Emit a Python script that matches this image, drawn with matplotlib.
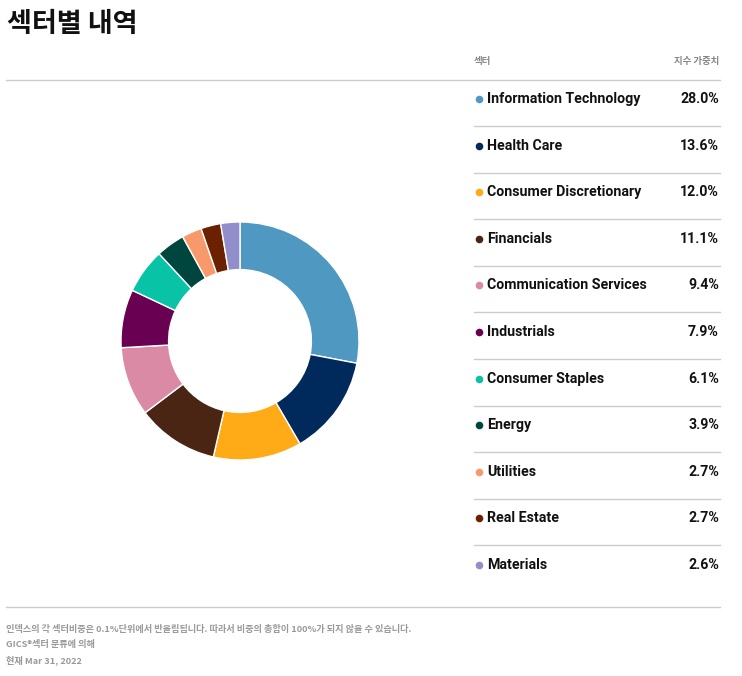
import matplotlib
matplotlib.use("Agg")
import matplotlib.pyplot as plt

plt.rcParams['font.family'] = ['Noto Sans CJK KR', 'DejaVu Sans']

# --- data ---
sectors = ["Information Technology", "Health Care", "Consumer Discretionary",
           "Financials", "Communication Services", "Industrials",
           "Consumer Staples", "Energy", "Utilities", "Real Estate", "Materials"]
weights = [28.0, 13.6, 12.0, 11.1, 9.4, 7.9, 6.1, 3.9, 2.7, 2.7, 2.6]
colors = ["#4e98c2", "#002a5c", "#ffab18", "#4a2513", "#db8aa5", "#690052",
          "#08c3a5", "#00453e", "#f7996b", "#6b2100", "#918eca"]

title = "섹터별 내역"
col_left = "섹터"
col_right = "지수 가중치"
notes = ["인덱스의 각 섹터비중은 0.1%단위에서 반올림됩니다. 따라서 비중의 총합이 100%가 되지 않을 수 있습니다.",
         "GICS®섹터 분류에 의해",
         "현재 Mar 31, 2022"]

W, H = 742, 676
fig = plt.figure(figsize=(W / 100, H / 100), dpi=100)

# overlay axes in pixel coordinates
bg = fig.add_axes([0, 0, 1, 1])
bg.set_xlim(0, W)
bg.set_ylim(H, 0)
bg.axis("off")

bg.text(7, 24, title, fontsize=19.5, fontweight="black", va="center", ha="left", color="#111111")
bg.text(474, 61, col_left, fontsize=6.8, color="#888888", va="center", fontweight="bold")
bg.text(719, 61, col_right, fontsize=6.8, color="#888888", va="center", ha="right", fontweight="bold")
bg.plot([6, 720], [80, 80], color="#cccccc", lw=1)
bg.plot([6, 720], [607, 607], color="#cccccc", lw=1)

row0, step = 99, 46.6
for i, (s, w, c) in enumerate(zip(sectors, weights, colors)):
    y = row0 + i * step
    bg.scatter([478.5], [y], s=30, color=c, zorder=3, linewidths=0)
    bg.text(487, y, s, fontsize=10.2, fontweight="bold", va="center", ha="left",
            color="#111111", family="Roboto")
    bg.text(719, y, f"{w:.1f}%", fontsize=10.2, fontweight="bold", va="center",
            ha="right", color="#111111", family="Roboto")
    if i < len(sectors) - 1:
        bg.plot([474, 720], [y + 27, y + 27], color="#cccccc", lw=1)

for j, t in enumerate(notes):
    bg.text(6, 629 + j * 15.5, t, fontsize=6.6, color="#999999", va="center", fontweight="bold")

# donut
cx, cy, r = 240, 341, 119
ax = fig.add_axes([(cx - r) / W, 1 - (cy + r) / H, 2 * r / W, 2 * r / H])
ax.pie(weights, colors=colors, startangle=90, counterclock=False, radius=1,
       wedgeprops=dict(width=0.4, edgecolor="white", linewidth=1))
ax.set_xlim(-1, 1)
ax.set_ylim(-1, 1)
ax.set_aspect("equal")
ax.axis("off")

fig.savefig("out.png", dpi=100)
